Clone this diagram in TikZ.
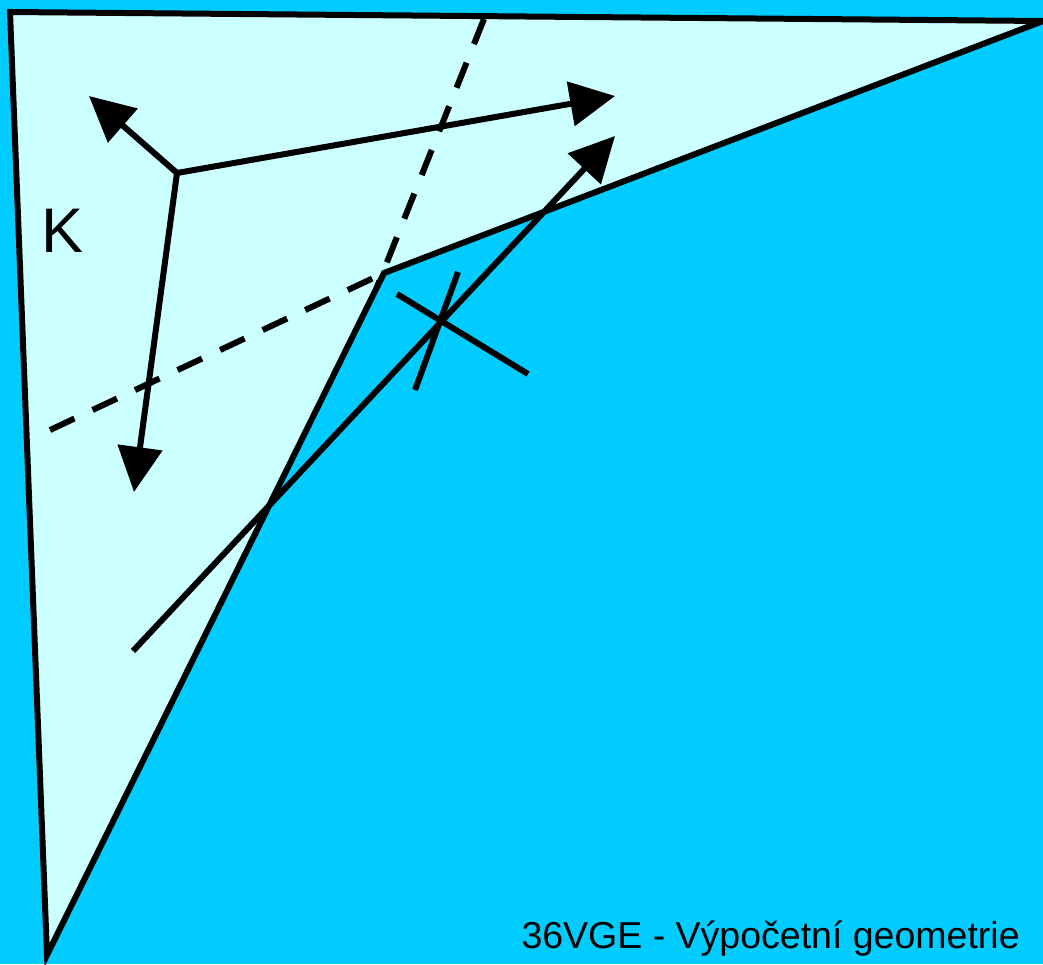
\documentclass[tikz,border=0pt]{standalone}
\usepackage{fontspec}
\setmainfont{Liberation Sans}
\usepackage{xcolor}
\usetikzlibrary{arrows.meta,positioning}
\definecolor{cSea}{HTML}{00CCFF}
\definecolor{cLand}{HTML}{CCFFFF}

\begin{document}
\begin{tikzpicture}[
  x=1pt, y=-1pt, line width=6pt,
  >={Triangle[length=45pt,width=44pt]},
  edge/.style={draw=black,line join=miter},
  cut/.style={draw=black,dash pattern=on 27pt off 20pt},
  vec/.style={draw=black,->},
  lbl/.style={inner sep=0pt,anchor=base west}]
  % background and region
  \fill[cSea] (0,0) rectangle (1043,964);
  \useasboundingbox (0,0) rectangle (1043,964);
  \coordinate (tl) at (10,12);
  \coordinate (tr) at (1043,21);
  \coordinate (cv) at (384,273);
  \coordinate (bt) at (47,955);
  \filldraw[fill=cLand,edge] (tl) -- (tr) -- (cv) -- (bt) -- cycle;
  % dashed lines
  \coordinate (d1a) at (484,19);
  \coordinate (d1b) at (377,287);
  \coordinate (d2a) at (50,430);
  \draw[cut] (d1a) -- (d1b);
  \draw[cut] (d2a) -- (cv);
  % vectors from the centre
  \coordinate (c) at (177,173);
  \coordinate (e1) at (615,96);
  \coordinate (e2) at (89,96);
  \coordinate (e3) at (134,492);
  \draw[vec] (c) -- (e1);
  \draw[vec] (c) -- (e2);
  \draw[vec] (c) -- (e3);
  % diagonal line
  \coordinate (la) at (133,651);
  \coordinate (lb) at (615,136);
  \draw[vec] (la) -- (lb);
  % cross
  \coordinate (xa) at (397,294);
  \coordinate (xb) at (528,374);
  \coordinate (xc) at (458,272);
  \coordinate (xd) at (415,390);
  \draw (xa) -- (xb);
  \draw (xc) -- (xd);
  % labels
  \node[lbl,font=\fontsize{63}{70}\selectfont] (k) at (38.5,252) {K};
  \node[lbl,font=\fontsize{37.5}{42}\selectfont] (title) at (518.5,948) {36VGE - Výpočetní geometrie};
\end{tikzpicture}
\end{document}
